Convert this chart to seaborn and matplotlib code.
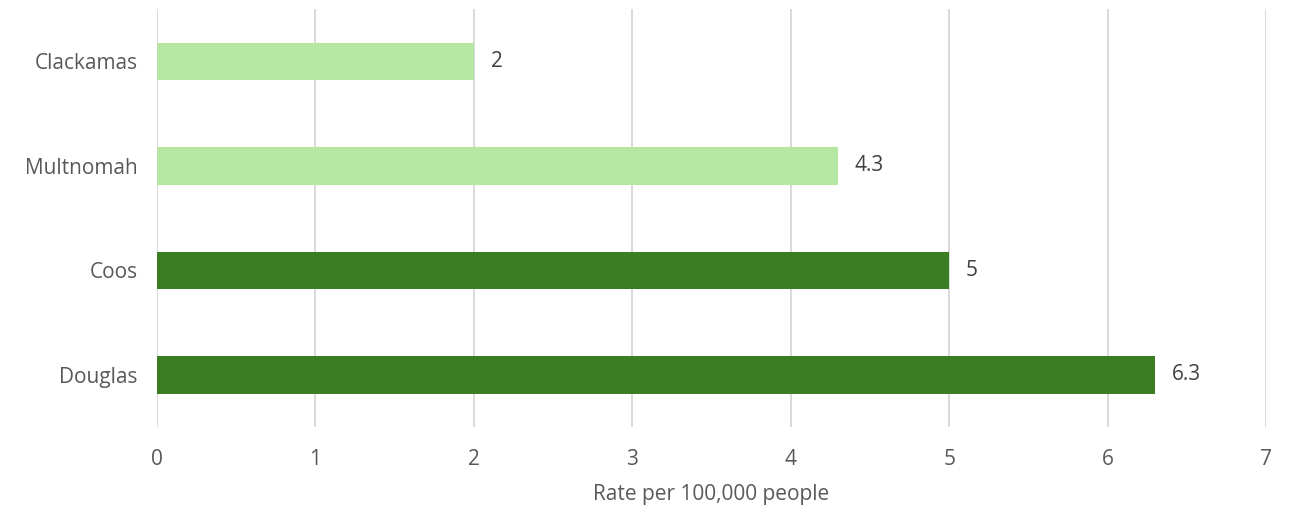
import matplotlib
matplotlib.use("Agg")
import matplotlib.pyplot as plt
import seaborn as sns
import pandas as pd

counties = ["Clackamas", "Multnomah", "Coos", "Douglas"]
rates = [2, 4.3, 5, 6.3]
groups = ["light", "light", "dark", "dark"]
palette = {"light": "#b5e6a2", "dark": "#3b7d23"}

sns.set_theme(style="white")
plt.rcParams["font.family"] = ["Open Sans", "DejaVu Sans"]

df = pd.DataFrame({"county": counties, "rate": rates, "group": groups})

fig = plt.figure(figsize=(12.92, 5.12), dpi=100)
ax = fig.add_axes([0.1215, 0.166, 0.8585, 0.816])

sns.barplot(data=df, x="rate", y="county", hue="group", palette=palette,
            orient="h", width=0.36, dodge=False, legend=False, ax=ax,
            saturation=1, linewidth=0)

for cont in ax.containers:
    labels = [f"{v:g}" for v in cont.datavalues]
    ax.bar_label(cont, labels=labels, padding=12, fontsize=15, color="#404040")

ax.set_xlim(0, 7)
ax.set_xticks(range(0, 8))
ax.grid(axis="x", color="#d9d9d9", linewidth=1.4)
ax.set_axisbelow(True)
for s in ax.spines.values():
    s.set_visible(False)
ax.tick_params(axis="x", length=0, pad=16, labelsize=15, labelcolor="#595959")
ax.tick_params(axis="y", length=0, pad=14, labelsize=15, labelcolor="#595959")
ax.set_ylabel("")
ax.set_xlabel("Rate per 100,000 people", fontsize=15, color="#595959", labelpad=10)

fig.savefig("out.png", dpi=100)
